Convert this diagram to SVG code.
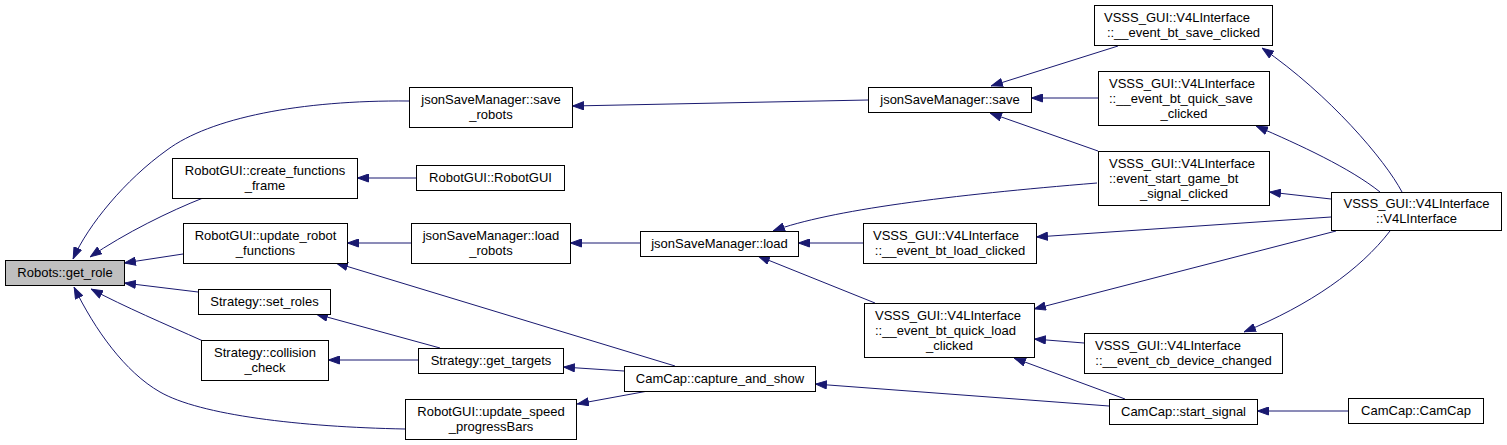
<svg xmlns="http://www.w3.org/2000/svg" width="1507" height="445" viewBox="0 0 1507 445">
<style>
.n rect{fill:#ffffff;stroke:#000000;stroke-width:1}
.n.hl rect{fill:#bfbfbf}
.n text{font-family:"Liberation Sans",Arial,sans-serif;font-size:13px;fill:#000000;text-anchor:middle}
.n text.l{text-anchor:start}
.e path{fill:none;stroke:#191970;stroke-width:1;marker-end:url(#ah)}
</style>
<defs>
<marker id="ah" markerUnits="userSpaceOnUse" viewBox="0 0 12 9" refX="12" refY="4.5" markerWidth="12" markerHeight="9" orient="auto">
<polygon points="0.5,0.5 11.5,4.5 0.5,8.5" fill="#191970" stroke="#191970" stroke-width="1"/>
</marker>
</defs>
<rect width="1507" height="445" fill="#ffffff"/>
<g id="edges" class="e">
<path d="M409,101 C300,100 210,118 167,150 C125,180 88,225 73,259"/>
<path d="M203,198 C170,211 125,233 90,257"/>
<path d="M183,254 L124,263"/>
<path d="M198,292 L124,283"/>
<path d="M203,341 C165,324 125,307 91,289"/>
<path d="M405,429 C300,427 200,415 160,392 C125,372 95,330 74,287"/>
<path d="M416,178 L357,178"/>
<path d="M411,243 L347,243"/>
<path d="M675,366 L336,263"/>
<path d="M440,348 L316,314"/>
<path d="M418,360 L328,360"/>
<path d="M624,371 L563,367"/>
<path d="M648,391 L577,404"/>
<path d="M640,243 L570,243"/>
<path d="M868,100 L572,106"/>
<path d="M1109,406 L815,384"/>
<path d="M1118,46 L991,86"/>
<path d="M1098,98 L1031,98"/>
<path d="M1098,151 L990,113"/>
<path d="M1097,183 C950,195 830,210 773,231"/>
<path d="M863,243 L798,243"/>
<path d="M875,303 L758,256"/>
<path d="M1084,343 L1034,339"/>
<path d="M1125,399 L1014,358"/>
<path d="M1402,192 C1385,160 1330,95 1262,48"/>
<path d="M1380,192 C1350,168 1300,145 1256,126"/>
<path d="M1331,199 L1269,192"/>
<path d="M1331,217 L1036,237"/>
<path d="M1336,231 L1034,309"/>
<path d="M1390,231 C1360,270 1310,305 1244,332"/>
<path d="M1348,411 L1257,411"/>
</g>
<g id="get_role" class="n hl"><rect x="5.5" y="260.5" width="119" height="25"/><text x="65" y="277">Robots::get_role</text></g>
<g id="save_robots" class="n"><rect x="409.5" y="87.5" width="163" height="40"/><text x="491" y="104">jsonSaveManager::save</text><text x="491" y="119">_robots</text></g>
<g id="create_functions_frame" class="n"><rect x="172.5" y="158.5" width="185" height="40"/><text x="265" y="175">RobotGUI::create_functions</text><text x="265" y="190">_frame</text></g>
<g id="robotgui_ctor" class="n"><rect x="416.5" y="165.5" width="148" height="25"/><text x="490.5" y="182">RobotGUI::RobotGUI</text></g>
<g id="update_robot_functions" class="n"><rect x="183.5" y="223.5" width="164" height="40"/><text x="265.5" y="240">RobotGUI::update_robot</text><text x="265.5" y="255">_functions</text></g>
<g id="load_robots" class="n"><rect x="411.5" y="223.5" width="159" height="40"/><text x="491" y="240">jsonSaveManager::load</text><text x="491" y="255">_robots</text></g>
<g id="load" class="n"><rect x="640.5" y="231.5" width="158" height="25"/><text x="719.5" y="248">jsonSaveManager::load</text></g>
<g id="set_roles" class="n"><rect x="198.5" y="289.5" width="132" height="25"/><text x="264.5" y="306">Strategy::set_roles</text></g>
<g id="collision_check" class="n"><rect x="201.5" y="340.5" width="127" height="40"/><text x="265" y="357">Strategy::collision</text><text x="265" y="372">_check</text></g>
<g id="get_targets" class="n"><rect x="418.5" y="348.5" width="145" height="25"/><text x="491" y="365">Strategy::get_targets</text></g>
<g id="capture_and_show" class="n"><rect x="624.5" y="366.5" width="191" height="25"/><text x="720" y="383">CamCap::capture_and_show</text></g>
<g id="update_speed_progressBars" class="n"><rect x="405.5" y="399.5" width="171" height="40"/><text x="491" y="416">RobotGUI::update_speed</text><text x="491" y="431">_progressBars</text></g>
<g id="save" class="n"><rect x="868.5" y="87.5" width="163" height="25"/><text x="950" y="104">jsonSaveManager::save</text></g>
<g id="bt_save_clicked" class="n"><rect x="1094.5" y="5.5" width="178" height="40"/><text class="l" x="1104" y="22">VSSS_GUI::V4LInterface</text><text x="1183.5" y="37">::__event_bt_save_clicked</text></g>
<g id="bt_quick_save_clicked" class="n"><rect x="1098.5" y="71.5" width="171" height="54"/><text class="l" x="1109" y="88">VSSS_GUI::V4LInterface</text><text class="l" x="1109" y="103">::__event_bt_quick_save</text><text x="1184" y="118">_clicked</text></g>
<g id="start_game_bt_signal_clicked" class="n"><rect x="1098.5" y="151.5" width="171" height="54"/><text class="l" x="1109" y="168">VSSS_GUI::V4LInterface</text><text class="l" x="1109" y="183">::event_start_game_bt</text><text x="1184" y="198">_signal_clicked</text></g>
<g id="bt_load_clicked" class="n"><rect x="863.5" y="223.5" width="173" height="40"/><text class="l" x="873" y="240">VSSS_GUI::V4LInterface</text><text x="950" y="255">::__event_bt_load_clicked</text></g>
<g id="bt_quick_load_clicked" class="n"><rect x="864.5" y="303.5" width="170" height="54"/><text class="l" x="875" y="320">VSSS_GUI::V4LInterface</text><text class="l" x="875" y="335">::__event_bt_quick_load</text><text x="949.5" y="350">_clicked</text></g>
<g id="cb_device_changed" class="n"><rect x="1084.5" y="333.5" width="198" height="40"/><text class="l" x="1095" y="350">VSSS_GUI::V4LInterface</text><text x="1183.5" y="365">::__event_cb_device_changed</text></g>
<g id="start_signal" class="n"><rect x="1109.5" y="399.5" width="148" height="25"/><text x="1183.5" y="416">CamCap::start_signal</text></g>
<g id="v4linterface" class="n"><rect x="1331.5" y="192.5" width="170" height="38"/><text x="1416.5" y="208">VSSS_GUI::V4LInterface</text><text x="1416.5" y="223">::V4LInterface</text></g>
<g id="camcap" class="n"><rect x="1348.5" y="398.5" width="135" height="25"/><text x="1416" y="415">CamCap::CamCap</text></g>
</svg>
